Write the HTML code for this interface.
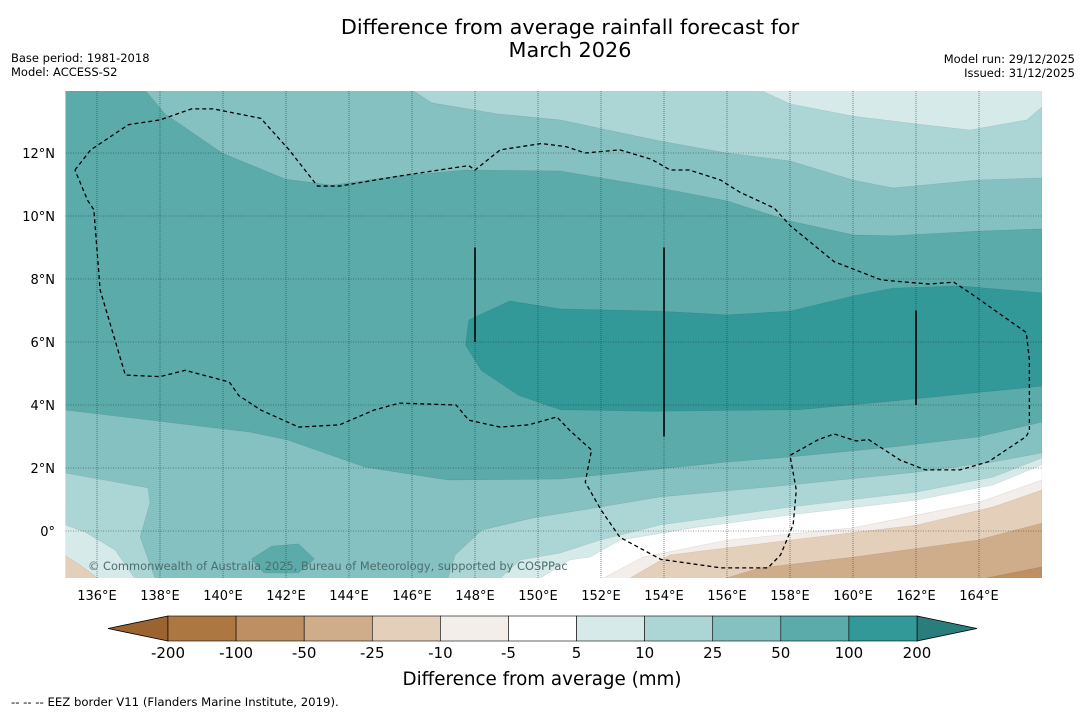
<!DOCTYPE html>
<html><head><meta charset="utf-8">
<style>
html,body{margin:0;padding:0;background:#fff;}
body{width:1085px;height:713px;overflow:hidden;font-family:"Liberation Sans","DejaVu Sans",sans-serif;}
svg text{font-family:"DejaVu Sans","Liberation Sans",sans-serif;}
</style></head>
<body>
<svg id="chart" width="1085" height="713" xmlns="http://www.w3.org/2000/svg">
<text x="570" y="34" font-size="20.8" text-anchor="middle" fill="#000">Difference from average rainfall forecast for</text>
<text x="570" y="57" font-size="20.8" text-anchor="middle" fill="#000">March 2026</text>
<text x="11" y="62" font-size="11.5">Base period: 1981-2018</text>
<text x="11" y="76" font-size="11.5">Model: ACCESS-S2</text>
<text x="1075" y="63" font-size="11.5" text-anchor="end">Model run: 29/12/2025</text>
<text x="1075" y="77" font-size="11.5" text-anchor="end">Issued: 31/12/2025</text>
<defs><clipPath id="mapclip"><rect x="65.5" y="91" width="976.5" height="487"/></clipPath></defs>
<g id="map" clip-path="url(#mapclip)"></g>
<g id="axes"></g>
<g id="cbar"></g>
<text x="542" y="685" font-size="18.3" text-anchor="middle">Difference from average (mm)</text>
<text x="11" y="706" font-size="11.7">--  --  -- EEZ border V11 (Flanders Marine Institute, 2019).</text>
</svg>
<script>
const lonTicks=[136,138,140,142,144,146,148,150,152,154,156,158,160,162,164];
const latTicks=[0,2,4,6,8,10,12];
const latLabels=["0°","2°N","4°N","6°N","8°N","10°N","12°N"];
const cbarLevels=["-200","-100","-50","-25","-10","-5","5","10","25","50","100","200"];
const cbarColors=["#ad7741","#bd8f63","#d0ad8a","#e4cfba","#f3eee9","#ffffff","#d5eae9","#acd6d5","#84c1c0","#5aabaa","#339898"];
const under="#9b6330", over="#2a7d7d";
const contourLevelIdx=[9,8,7,6,10,8,7,6,3,9,7,6,5,4,3,2,1];
const contourPolys=[
 [[135,14],[166,14],[166,-1.5],[135,-1.5]],
 [[137.52,14],[138.16,13.24],[139.97,12.0],[141.97,11.17],[143.46,10.98],[145.56,11.27],[147.68,11.46],[150.7,11.43],[153.87,10.89],[156.0,10.48],[158.0,9.84],[160.0,9.4],[161.27,9.37],[163.94,9.52],[166,9.59],[166,14]],
 [[146.0,14],[146.63,13.59],[148.73,13.24],[150.7,13.05],[153.87,12.38],[156.0,12.0],[158.0,11.75],[160.0,11.14],[161.27,10.89],[163.94,11.14],[166,11.21],[166,14]],
 [[157.05,14],[158.0,13.56],[160.0,13.17],[162.03,12.92],[163.71,12.73],[165.52,13.05],[166,13.46],[166,14]],
 [[147.7,5.9],[147.8,6.7],[149.1,7.3],[150.7,7.05],[153.87,6.98],[156.0,6.86],[158.0,6.98],[160.0,7.46],[161.27,7.71],[163.4,7.78],[166,7.56],[166,4.6],[161.5,4.15],[158.3,3.85],[153.6,3.8],[150.7,3.85],[149.4,4.3],[148.2,5.1]],
 [[135,3.84],[137.68,3.52],[140.86,3.14],[142.06,2.89],[144.5,2.03],[147.14,1.62],[150.7,1.65],[153.87,1.97],[156.0,2.19],[158.0,2.35],[161.27,2.67],[163.94,2.98],[166,3.46],[166,-1.5],[135,-1.5]],
 [[135,1.84],[137.62,1.37],[137.68,0.89],[137.37,-0.19],[137.84,-1.5],[135,-1.5]],
 [[135,0.19],[135.62,-0.03],[136.57,-0.6],[137.2,-1.5],[135,-1.5]],
 [[135,-0.79],[135.46,-1.08],[136.03,-1.5],[135,-1.5]],
 [[140.9,-0.89],[141.55,-0.48],[142.4,-0.41],[142.9,-0.89],[142.4,-1.33],[141.3,-1.33]],
 [[147.14,-1.5],[147.37,-0.76],[148.22,0.03],[149.81,0.41],[151.97,0.76],[153.87,1.08],[158.0,1.46],[162.03,1.87],[164.44,2.19],[166,2.48],[166,-1.5]],
 [[148.8,-1.5],[149.43,-0.92],[150.7,-0.7],[151.97,-0.29],[153.87,0.19],[158.0,0.76],[162.03,1.24],[164.44,1.71],[166,2.32],[166,-1.5]],
 [[150.06,-1.5],[151.0,-0.92],[151.65,-0.83],[152.6,-0.29],[154.92,0.1],[158.0,0.51],[162.03,0.98],[164.44,1.46],[166,2.1],[166,-1.5]],
 [[151.97,-1.55],[153.33,-0.83],[156.0,-0.29],[160.0,0.1],[163.94,0.89],[166,1.62],[166,-1.55]],
 [[152.83,-1.55],[154.19,-0.76],[158.0,-0.29],[162.03,0.19],[164.44,0.76],[166,1.3],[166,-1.55]],
 [[155.78,-1.55],[157.05,-1.17],[160.0,-0.83],[163.94,-0.29],[166,0.25],[166,-1.55]],
 [[163.94,-1.55],[166,-1.14],[166,-1.55]]
];
const eezLine=[[135.3,11.46],[135.8,12.1],[137.0,12.9],[138.0,13.05],[139.0,13.4],[139.7,13.4],[141.2,13.1],[142.1,12.1],[143.0,10.95],[143.7,10.95],[145.6,11.27],[147.8,11.6],[148.0,11.46],[148.8,12.1],[150.1,12.3],[150.9,12.2],[151.5,12.0],[152.6,12.1],[153.6,11.8],[154.2,11.46],[154.8,11.46],[155.8,11.14],[156.4,10.76],[157.5,10.25],[158.0,9.7],[159.4,8.55],[160.9,7.97],[162.4,7.84],[163.2,7.9],[163.8,7.5],[165.5,6.3],[165.6,5.43],[165.6,3.2],[165.5,3.0],[164.3,2.2],[163.4,1.94],[162.3,1.94],[161.5,2.25],[160.5,2.9],[160.1,2.86],[159.4,3.08],[158.9,2.9],[158.0,2.4],[158.2,1.3],[158.1,0.2],[157.7,-0.76],[157.3,-1.17],[155.8,-1.17],[153.9,-0.9],[152.6,-0.2],[152.0,0.67],[151.5,1.55],[151.7,2.57],[151.0,3.2],[150.6,3.62],[149.7,3.37],[148.8,3.3],[147.8,3.52],[147.4,4.0],[145.6,4.06],[144.8,3.84],[143.7,3.37],[142.4,3.3],[141.2,3.84],[140.5,4.3],[140.2,4.73],[138.8,5.1],[138.0,4.9],[136.9,4.95],[136.1,7.65],[135.9,10.2],[135.7,10.5],[135.3,11.46]];
const eezSegments=[[148,6,9],[154,3,9],[162,4,7]];

const NS="http://www.w3.org/2000/svg";
const X=lon=>65.5+(lon-135)*31.5;
const Y=lat=>531-lat*31.5;
function mk(tag,attrs,parent){const e=document.createElementNS(NS,tag);for(const k in attrs)e.setAttribute(k,attrs[k]);parent.appendChild(e);return e;}
const map=document.getElementById('map');
contourPolys.forEach((p,i)=>{
 const el=mk('polygon',{points:p.map(q=>X(q[0])+','+Y(q[1])).join(' '),fill:cbarColors[contourLevelIdx[i]],stroke:'rgba(0,0,0,0.1)','stroke-width':0.6},map);
 
 
});
lonTicks.forEach(l=>{const g=mk('line',{x1:X(l),x2:X(l),y1:91,y2:578,stroke:'rgba(50,50,50,0.55)','stroke-width':1,'stroke-dasharray':'1,1'},map);
 
 });
latTicks.forEach(l=>{const g=mk('line',{x1:65.5,x2:1042,y1:Y(l),y2:Y(l),stroke:'rgba(40,40,40,0.6)','stroke-width':0.8,'stroke-dasharray':'1,1.5'},map);
 
 });
const ez=mk('polyline',{points:eezLine.map(q=>X(q[0])+','+Y(q[1])).join(' '),fill:'none',stroke:'#000','stroke-width':1.3,'stroke-dasharray':'4,3'},map);


eezSegments.forEach(s=>{const l=mk('line',{x1:X(s[0]),x2:X(s[0]),y1:Y(s[2]),y2:Y(s[1]),stroke:'#000','stroke-width':1.6},map);
 
 });
const cp=mk('text',{x:88,y:570,'font-size':11.4,fill:'#4d6e6e'},map);
cp.textContent='© Commonwealth of Australia 2025, Bureau of Meteorology, supported by COSPPac';


const axes=document.getElementById('axes');
lonTicks.forEach(l=>{const t=mk('text',{x:X(l),y:600,'font-size':13,'text-anchor':'middle'},axes);t.textContent=l+'°E';
 
 });
latTicks.forEach((l,i)=>{const t=mk('text',{x:55,y:Y(l)+5,'font-size':13,'text-anchor':'end'},axes);t.textContent=latLabels[i];
 
 });
const cb=document.getElementById('cbar');
const cx0=168,cx1=917,cy=616,ch=25,bw=(cx1-cx0)/cbarColors.length;
const lt=mk('polygon',{points:`${cx0},${cy} ${cx0},${cy+ch} 108,${cy+ch/2}`,fill:under,stroke:'#000','stroke-width':0.8},cb);


const rt=mk('polygon',{points:`${cx1},${cy} ${cx1},${cy+ch} 977,${cy+ch/2}`,fill:over,stroke:'#000','stroke-width':0.8},cb);


cbarColors.forEach((c,i)=>{const r=mk('rect',{x:cx0+i*bw,y:cy,width:bw,height:ch,fill:c,stroke:'#000','stroke-width':0.6},cb);
 
 });
cbarLevels.forEach((v,i)=>{const t=mk('text',{x:cx0+i*bw,y:658,'font-size':15,'text-anchor':'middle'},cb);t.textContent=v;
 
 });
</script>
</body></html>
